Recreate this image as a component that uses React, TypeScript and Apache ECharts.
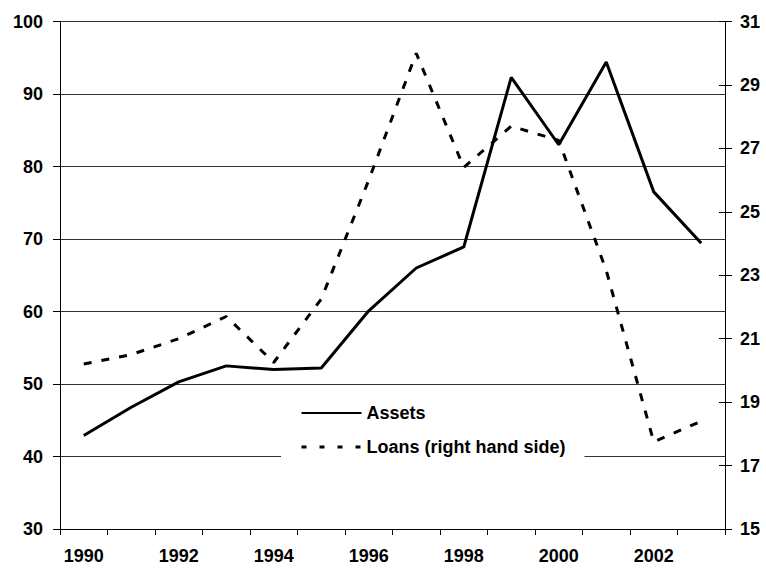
import React, { useEffect, useRef } from "react";
import * as echarts from "echarts";

const years = ["1990","1991","1992","1993","1994","1995","1996","1997","1998","1999","2000","2001","2002","2003"];
const assets = [42.9, 46.8, 50.3, 52.5, 52.0, 52.2, 60.1, 66.0, 68.9, 92.3, 83.0, 94.4, 76.5, 69.4];
const loans = [20.2, 20.5, 21.0, 21.7, 20.25, 22.25, 26.0, 30.0, 26.4, 27.7, 27.25, 23.15, 17.75, 18.4];
const leftMin = 30, leftMax = 100, leftStep = 10;
const rightMin = 15, rightMax = 31, rightStep = 2;

const FONT = "'Liberation Sans', Arial, sans-serif";

export default function App() {
  const ref = useRef<HTMLDivElement>(null);
  useEffect(() => {
    if (!ref.current) return;
    const chart = echarts.init(ref.current, undefined, { renderer: "svg" });
    const labelStyle = { color: "#000", fontFamily: FONT, fontWeight: "bold" as const, fontSize: 18 };
    chart.setOption({
      animation: false,
      backgroundColor: "#fff",
      grid: { left: 60, right: 41, top: 21.5, bottom: 39, containLabel: false },
      xAxis: {
        type: "category",
        data: years,
        boundaryGap: true,
        axisLine: { lineStyle: { color: "#000", width: 1 } },
        axisTick: { show: true, interval: 0, length: 6, lineStyle: { color: "#000" } },
        axisLabel: { ...labelStyle, interval: 1, margin: 18 },
        splitLine: { show: false },
      },
      yAxis: [
        {
          type: "value",
          min: leftMin, max: leftMax, interval: leftStep,
          position: "left",
          axisLine: { show: true, lineStyle: { color: "#000", width: 1 } },
          axisTick: { show: true, length: 7, lineStyle: { color: "#000" } },
          axisLabel: { ...labelStyle, margin: 17 },
          splitLine: { show: true, lineStyle: { color: "#333", width: 1 } },
        },
        {
          type: "value",
          min: rightMin, max: rightMax, interval: rightStep,
          position: "right",
          axisLine: { show: true, lineStyle: { color: "#000", width: 1 } },
          axisTick: { show: true, length: 7, lineStyle: { color: "#000" } },
          axisLabel: { ...labelStyle, margin: 15 },
          splitLine: { show: false },
        },
        {
          type: "value",
          min: rightMin, max: rightMax, interval: rightStep,
          position: "right",
          axisLine: { show: false },
          axisTick: { show: true, inside: true, length: 6, lineStyle: { color: "#000" } },
          axisLabel: { show: false },
          splitLine: { show: false },
        },
      ],
      legend: {
        orient: "vertical",
        left: 281,
        top: 396,
        padding: [8, 19, 10, 19],
        backgroundColor: "#fff",
        itemWidth: 60,
        itemHeight: 14,
        itemGap: 16,
        itemStyle: { opacity: 0, borderWidth: 0 },
        textStyle: { ...labelStyle, lineHeight: 18 },
        data: [
          { name: "Assets", itemStyle: { opacity: 0, borderWidth: 0 } },
          {
            name: "Loans (right hand side)",
            itemStyle: { opacity: 0, borderWidth: 0 },
            lineStyle: { type: [5, 13], width: 3, color: "#000" },
          },
        ],
      },
      series: [
        {
          name: "Assets",
          type: "line",
          data: assets,
          yAxisIndex: 0,
          symbol: "none",
          lineStyle: { color: "#000", width: 3 },
          itemStyle: { color: "#000" },
        },
        {
          name: "Loans (right hand side)",
          type: "line",
          data: loans,
          yAxisIndex: 1,
          symbol: "none",
          lineStyle: { color: "#000", width: 3, type: [8, 10] },
          itemStyle: { color: "#000" },
        },
      ],
    });
    return () => chart.dispose();
  }, []);
  return (
    <div
      ref={ref}
      style={{ position: "fixed", left: 0, top: 0, width: 766, height: 568, background: "#fff" }}
    />
  );
}
